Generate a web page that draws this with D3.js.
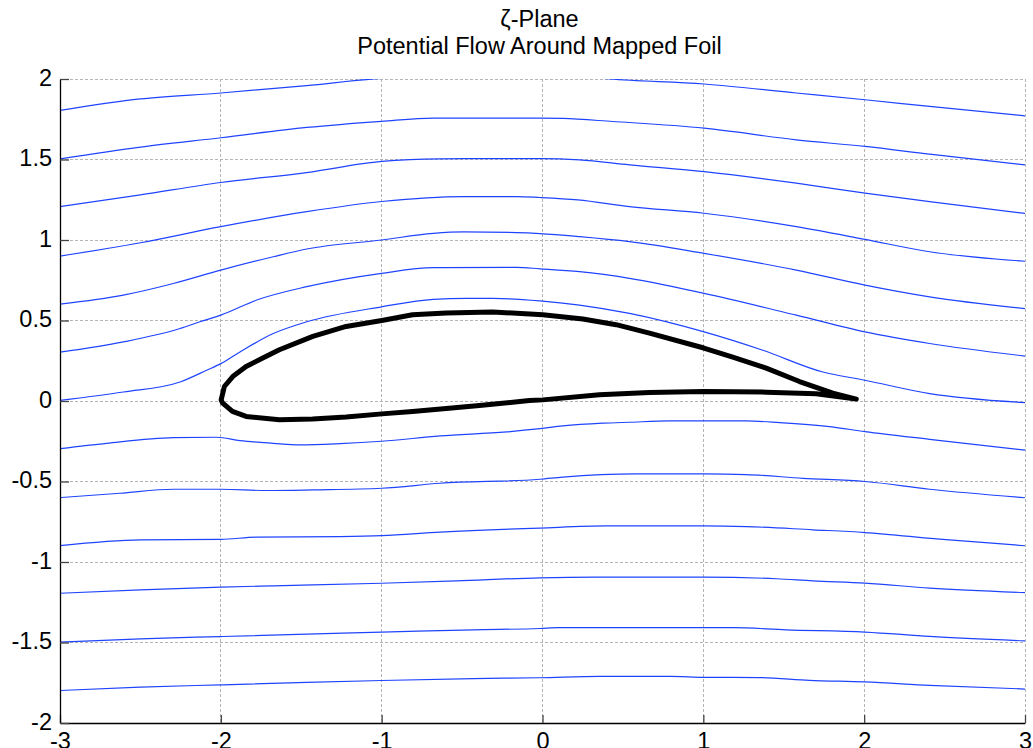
<!DOCTYPE html>
<html>
<head>
<meta charset="utf-8">
<script src="https://cdn.jsdelivr.net/npm/d3@7"></script>
<style>
  html, body { margin: 0; padding: 0; background: #fff; }
  svg { display: block; font-family: "Liberation Sans", Arial, Helvetica, sans-serif; }
</style>
</head>
<body>
<svg id="chart" width="1033" height="748"></svg>
<script>
// Axis ticks
const xTicks = [-3, -2, -1, 0, 1, 2, 3];
const yTicks = [-2, -1.5, -1, -0.5, 0, 0.5, 1, 1.5, 2];

// Title lines
const titleLines = ["\u03B6-Plane", "Potential Flow Around Mapped Foil"];

// Foil outline in the zeta plane: upper surface LE -> TE, lower surface LE -> TE
const foilUpper = [
  [-1.998, 0.007], [-1.978, 0.090], [-1.926, 0.152], [-1.843, 0.214], [-1.739, 0.267],
  [-1.636, 0.318], [-1.428, 0.401], [-1.221, 0.463], [-0.999, 0.500], [-0.808, 0.536],
  [-0.599, 0.546], [-0.311, 0.553], [0.002, 0.536], [0.251, 0.509], [0.458, 0.474],
  [0.665, 0.422], [1.003, 0.329], [1.183, 0.273], [1.391, 0.204], [1.598, 0.121],
  [1.805, 0.049], [1.951, 0.012]
];
const foilLower = [
  [-1.998, 0.007], [-1.990, -0.011], [-1.928, -0.065], [-1.843, -0.096], [-1.636, -0.117],
  [-1.430, -0.112], [-1.221, -0.100], [-0.999, -0.080], [-0.808, -0.065], [-0.599, -0.047],
  [-0.392, -0.028], [-0.081, 0.003], [0.002, 0.007], [0.354, 0.039], [0.665, 0.053],
  [1.003, 0.059], [1.391, 0.055], [1.702, 0.045], [1.951, 0.012]
];

// Streamlines, from top to bottom
const stream1 = [[-3, 1.805], [-2.5, 1.876], [-2, 1.913], [-1.466, 1.959], [-1.05, 2.0], [-0.6, 2.025],
  [-0.2, 2.035], [0.1, 2.03], [0.417, 2.0], [1.005, 1.969], [1.578, 1.913], [2.005, 1.871], [2.407, 1.830], [3, 1.771]];
const stream2 = [[-3, 1.504], [-2.5, 1.577], [-2, 1.635], [-1.466, 1.699], [-1, 1.737], [-0.679, 1.757],
  [-0.016, 1.757], [0.126, 1.755], [0.437, 1.736], [1.005, 1.695], [1.578, 1.622], [2.005, 1.581], [2.407, 1.533], [3, 1.466]];
const stream3 = [[-3, 1.207], [-2.5, 1.280], [-2, 1.357], [-1.466, 1.419], [-1, 1.488], [-0.637, 1.504],
  [0, 1.506], [0.23, 1.498], [0.541, 1.467], [1.005, 1.425], [1.578, 1.353], [2.005, 1.291], [2.407, 1.238], [3, 1.165]];
const stream4 = [[-3, 0.900], [-2.5, 0.983], [-2, 1.083], [-1.466, 1.176], [-1, 1.239], [-0.492, 1.270],
  [-0.16, 1.270], [-0.016, 1.264], [0.22, 1.249], [0.541, 1.207], [1.005, 1.166], [1.578, 1.083], [2.005, 1.004],
  [2.407, 0.927], [3, 0.868]];
const stream5 = [[-3, 0.602], [-2.606, 0.658], [-2.295, 0.730], [-2, 0.813], [-1.674, 0.896], [-1.466, 0.944],
  [-1, 1.0], [-0.679, 1.041], [-0.492, 1.050], [-0.16, 1.046], [-0.016, 1.040], [0.23, 1.021], [0.541, 0.990],
  [1.005, 0.917], [1.578, 0.813], [2.005, 0.720], [2.407, 0.647], [3, 0.574]];
const stream6 = [[-3, 0.303], [-2.606, 0.367], [-2.254, 0.450], [-2.13, 0.492], [-2, 0.533], [-1.777, 0.627],
  [-1.466, 0.710], [-1, 0.793], [-0.679, 0.828], [-0.16, 0.830], [-0.016, 0.821], [0.23, 0.803], [0.541, 0.762],
  [1.005, 0.668], [1.578, 0.533], [2.005, 0.429], [2.407, 0.357], [3, 0.279]];
const stream7 = [[-3, 0.004], [-2.606, 0.056], [-2.254, 0.118], [-2.088, 0.191], [-2, 0.232], [-1.881, 0.305],
  [-1.674, 0.419], [-1.466, 0.492], [-1, 0.585], [-0.679, 0.631], [-0.472, 0.637], [-0.306, 0.637], [-0.016, 0.622],
  [0.23, 0.596], [0.541, 0.544], [1.005, 0.429], [1.37, 0.315], [1.743, 0.180], [2.005, 0.129], [2.407, 0.046], [3, -0.01]];
const stream8 = [[-3, -0.296], [-2.71, -0.263], [-2.295, -0.228], [-2.026, -0.225], [-1.881, -0.246], [-1.674, -0.263],
  [-1.508, -0.273], [-1.259, -0.265], [-1, -0.250], [-0.637, -0.217], [-0.223, -0.192], [-0.016, -0.172], [0.126, -0.155],
  [0.375, -0.138], [0.541, -0.132], [0.79, -0.124], [1.266, -0.124], [1.474, -0.134], [1.785, -0.159], [2.005, -0.19],
  [2.407, -0.238], [3, -0.305]];
const stream9 = [[-3, -0.600], [-2.627, -0.573], [-2.295, -0.548], [-2, -0.548], [-1.715, -0.556], [-1.425, -0.552],
  [-1, -0.542], [-0.637, -0.511], [-0.016, -0.486], [0.126, -0.473], [0.582, -0.453], [1.005, -0.453], [1.266, -0.457],
  [1.619, -0.480], [2.005, -0.5], [2.407, -0.548], [3, -0.601]];
const stream10 = [[-3, -0.898], [-2.5, -0.863], [-2, -0.859], [-1.777, -0.846], [-1.259, -0.842], [-1, -0.836],
  [-0.637, -0.815], [-0.016, -0.789], [0.396, -0.776], [1.005, -0.776], [1.266, -0.780], [1.681, -0.800], [2.005, -0.817],
  [2.469, -0.858], [3, -0.899]];
const stream11 = [[-3, -1.194], [-2.5, -1.173], [-2, -1.156], [-1.674, -1.148], [-1, -1.132], [-0.534, -1.117],
  [-0.016, -1.098], [0.333, -1.094], [1.005, -1.094], [1.453, -1.104], [1.681, -1.117], [2.005, -1.131], [2.407, -1.162],
  [3, -1.190]];
const stream12 = [[-3, -1.498], [-2.5, -1.477], [-2, -1.463], [-1.466, -1.448], [-1, -1.436], [-0.43, -1.421],
  [-0.016, -1.413], [0.105, -1.408], [1.183, -1.408], [1.515, -1.421], [2.005, -1.435], [2.407, -1.462], [3, -1.490]];
const stream13 = [[-3, -1.798], [-2.5, -1.777], [-2, -1.763], [-1.466, -1.748], [-1, -1.736], [-0.43, -1.724],
  [-0.016, -1.719], [0.354, -1.710], [0.79, -1.710], [1.005, -1.716], [1.349, -1.718], [1.66, -1.735], [2.005, -1.745],
  [2.407, -1.766], [3, -1.789]];

const streamlines = [stream1, stream2, stream3, stream4, stream5, stream6, stream7,
  stream8, stream9, stream10, stream11, stream12, stream13];

// Layout
const plot = { left: 60, right: 1025, top: 79, bottom: 723 };
const svg = d3.select("#chart");

const x = d3.scaleLinear().domain([-3, 3]).range([plot.left, plot.right]);
const y = d3.scaleLinear().domain([-2, 2]).range([plot.bottom, plot.top]);

svg.append("defs").append("clipPath").attr("id", "plot-clip")
  .append("rect")
  .attr("x", plot.left).attr("y", plot.top)
  .attr("width", plot.right - plot.left).attr("height", plot.bottom - plot.top);

// Dashed grid
const grid = svg.append("g").attr("class", "grid")
  .attr("stroke", "#b4b4b4").attr("stroke-width", 1).attr("stroke-dasharray", "3,2")
  .attr("shape-rendering", "crispEdges");
grid.selectAll("line.gx").data(xTicks.filter(t => t > -3)).join("line").attr("class", "gx")
  .attr("x1", d => x(d)).attr("x2", d => x(d))
  .attr("y1", plot.top).attr("y2", plot.bottom);
grid.selectAll("line.gy").data(yTicks.filter(t => t > -2)).join("line").attr("class", "gy")
  .attr("x1", plot.left).attr("x2", plot.right)
  .attr("y1", d => y(d)).attr("y2", d => y(d));

// Streamlines
const streamLine = d3.line().x(d => x(d[0])).y(d => y(d[1])).curve(d3.curveMonotoneX);
svg.append("g").attr("clip-path", "url(#plot-clip)")
  .selectAll("path").data(streamlines).join("path")
  .attr("d", streamLine)
  .attr("fill", "none")
  .attr("stroke", "#1f44ff")
  .attr("stroke-width", 1.2);

// Foil
const foilLine = d3.line().x(d => x(d[0])).y(d => y(d[1])).curve(d3.curveLinear);
const foilLoop = foilUpper.concat(foilLower.slice().reverse());
svg.append("path")
  .attr("d", foilLine(foilLoop) + "Z")
  .attr("fill", "none")
  .attr("stroke", "#000")
  .attr("stroke-width", 5)
  .attr("stroke-linejoin", "round")
  .attr("stroke-linecap", "round");

// Axes with inward ticks
const fmt = d => String(d);
const xAxis = d3.axisBottom(x).tickValues(xTicks).tickFormat(fmt).tickSizeInner(-8).tickSizeOuter(0).tickPadding(9);
const yAxis = d3.axisLeft(y).tickValues(yTicks).tickFormat(fmt).tickSizeInner(-9).tickSizeOuter(0).tickPadding(8);

const gx = svg.append("g").attr("transform", `translate(0,${plot.bottom})`).call(xAxis);
const gy = svg.append("g").attr("transform", `translate(${plot.left},0)`).call(yAxis);

[gx, gy].forEach(g => {
  g.select(".domain").attr("stroke", "#000").attr("stroke-width", 1.3);
  g.selectAll(".tick line").attr("stroke", "#444").attr("stroke-width", 1.3);
  g.selectAll(".tick text").attr("fill", "#000").attr("font-size", 23.5)
    .attr("font-family", "'Liberation Sans', Arial, Helvetica, sans-serif");
});
gy.selectAll(".tick text").attr("dy", "0.26em");

// Title
svg.append("g").selectAll("text").data(titleLines).join("text")
  .attr("x", x(0) - 3).attr("y", (d, i) => 26.5 + i * 27.5)
  .attr("text-anchor", "middle")
  .attr("font-size", 23.5)
  .attr("fill", "#000")
  .text(d => d);
</script>
</body>
</html>
